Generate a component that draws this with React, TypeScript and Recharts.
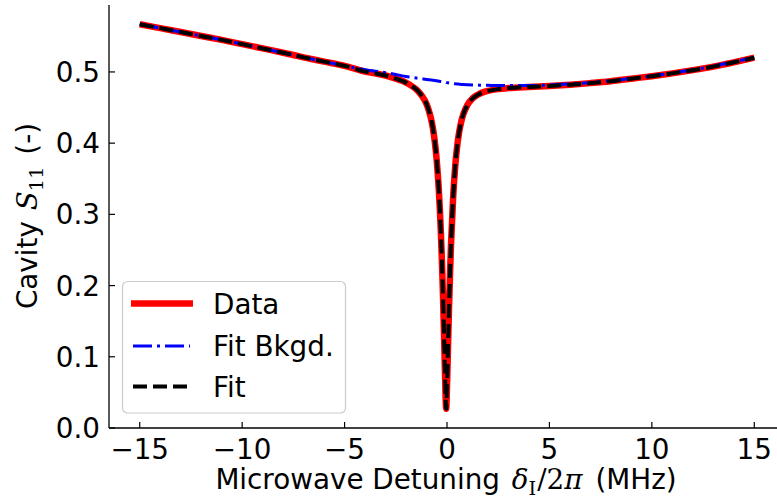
import React from 'react';
import { LineChart, Line, XAxis, YAxis } from 'recharts';

// detuning grid in MHz (denser around the dip)
const detuning = [
  -15, -14, -13, -12, -11, -10, -9, -8, -7, -6, -5, -4, -3.5, -3, -2.5, -2, -1.75, -1.5, -1.25, -1,
  -0.9, -0.8, -0.7, -0.6, -0.5, -0.4, -0.3, -0.25, -0.2, -0.15, -0.1, -0.05, -0.04, 0, 0.05, 0.1,
  0.15, 0.2, 0.3, 0.4, 0.5, 0.6, 0.7, 0.8, 1, 1.25, 1.5, 1.75, 2, 2.5, 3, 4, 5, 6, 7, 8, 9, 10, 11,
  12, 13, 14, 15,
];

const dataS11 = [
  0.567, 0.5615, 0.556, 0.5505, 0.545, 0.539, 0.533, 0.527, 0.5205, 0.5145, 0.5085, 0.5005, 0.498,
  0.495, 0.4905, 0.485, 0.4808, 0.4756, 0.4675, 0.455, 0.447, 0.4367, 0.4228, 0.403, 0.3754, 0.3348,
  0.2753, 0.2361, 0.19, 0.1375, 0.0803, 0.03, 0.027, 0.0576, 0.115, 0.1698, 0.2186, 0.2603, 0.324,
  0.3673, 0.3965, 0.4166, 0.4307, 0.4408, 0.4538, 0.4629, 0.468, 0.4713, 0.4734, 0.4759, 0.4773,
  0.4789, 0.4802, 0.482, 0.4843, 0.487, 0.4905, 0.494, 0.498, 0.5025, 0.5075, 0.5135, 0.52,
];

const bkgdS11 = [
  0.567, 0.5615, 0.556, 0.5505, 0.545, 0.539, 0.533, 0.527, 0.5205, 0.5145, 0.5085, 0.503, 0.501,
  0.499, 0.4965, 0.4935, 0.4925, 0.4915, 0.4905, 0.4895, 0.489, 0.4888, 0.4884, 0.488, 0.4875, 0.487,
  0.4865, 0.4863, 0.486, 0.4858, 0.4855, 0.4853, 0.4852, 0.485, 0.4848, 0.4845, 0.4843, 0.484,
  0.4837, 0.4833, 0.483, 0.4828, 0.4825, 0.4823, 0.482, 0.4817, 0.4815, 0.4813, 0.4812, 0.481, 0.481,
  0.481, 0.4815, 0.483, 0.485, 0.4875, 0.491, 0.4945, 0.4985, 0.503, 0.508, 0.514, 0.5205,
];

const fitS11 = [
  0.567, 0.5615, 0.556, 0.5505, 0.545, 0.539, 0.533, 0.527, 0.5205, 0.5145, 0.5085, 0.5005, 0.498,
  0.495, 0.4905, 0.485, 0.4808, 0.4756, 0.4675, 0.455, 0.447, 0.4367, 0.4228, 0.403, 0.3754, 0.3348,
  0.2753, 0.2361, 0.19, 0.1375, 0.0803, 0.03, 0.027, 0.0576, 0.115, 0.1698, 0.2186, 0.2603, 0.324,
  0.3673, 0.3965, 0.4166, 0.4307, 0.4408, 0.4538, 0.4629, 0.468, 0.4713, 0.4734, 0.4759, 0.4773,
  0.4789, 0.4802, 0.482, 0.4843, 0.487, 0.4905, 0.494, 0.498, 0.5025, 0.5075, 0.5135, 0.52,
];

const xTicks = [-15, -10, -5, 0, 5, 10, 15];
const yTicks = [0, 0.1, 0.2, 0.3, 0.4, 0.5];

const rows = detuning.map((x, i) => ({ x, data: dataS11[i], bkgd: bkgdS11[i], fit: fitS11[i] }));

const FONT = '"DejaVu Sans", sans-serif';
const MATH = '"DejaVu Serif", "Liberation Serif", serif';
const FS = 27.8;
const TICK_LEN = 6;

function BottomTick(props: any) {
  const { x, y, payload } = props;
  const v = payload.value;
  const label = v < 0 ? '\u2212' + Math.abs(v) : String(v);
  return (
    <g>
      <line x1={x} y1={y} x2={x} y2={y - TICK_LEN} stroke="#000" strokeWidth={1.2} />
      <text x={x} y={y + 31} textAnchor="middle" fontFamily={FONT} fontSize={FS} fill="#000">
        {label}
      </text>
    </g>
  );
}

function TopTick(props: any) {
  const { x, y } = props;
  return <line x1={x} y1={y} x2={x} y2={y + TICK_LEN} stroke="#000" strokeWidth={1.2} />;
}

function LeftTick(props: any) {
  const { x, y, payload } = props;
  return (
    <g>
      <line x1={x} y1={y} x2={x + TICK_LEN} y2={y} stroke="#000" strokeWidth={1.2} />
      <text x={x - 9} y={y + 10} textAnchor="end" fontFamily={FONT} fontSize={FS} fill="#000">
        {payload.value.toFixed(1)}
      </text>
    </g>
  );
}

function Overlay() {
  return (
    <svg
      width={777}
      height={503}
      style={{ position: 'absolute', left: 0, top: 0, pointerEvents: 'none' }}
      fontFamily={FONT}
    >
      {/* y label */}
      <text transform="translate(37,216) rotate(-90)" textAnchor="middle" fontSize={FS} fill="#000">
        Cavity{' '}
        <tspan fontFamily={MATH} fontStyle="italic" dx={2}>S</tspan>
        <tspan fontFamily={MATH} fontSize={FS * 0.7} dy={6}>11</tspan>
        <tspan dy={-6} dx={3}> (-)</tspan>
      </text>
      {/* x label */}
      <text x={446} y={489} textAnchor="middle" fontSize={FS} fill="#000">
        Microwave Detuning{' '}
        <tspan fontFamily={MATH} fontStyle="italic" dx={3}>δ</tspan>
        <tspan fontFamily={MATH} fontSize={FS * 0.7} dy={6}>I</tspan>
        <tspan fontFamily={MATH} dy={-6} dx={1}>/2</tspan>
        <tspan fontFamily={MATH} fontStyle="italic">π</tspan>
        <tspan dx={4}> (MHz)</tspan>
      </text>
      {/* legend */}
      <rect x={122.5} y={281.5} width={223} height={131.5} rx={5} fill="#fff" fillOpacity={0.8} stroke="#cccccc" strokeWidth={1.2} />
      <line x1={131} y1={303.5} x2={193} y2={303.5} stroke="#ff0000" strokeWidth={6.5} />
      <line x1={133} y1={346} x2={190} y2={346} stroke="#0000ff" strokeWidth={3} strokeDasharray="19 5 3 5" />
      <line x1={133} y1={386.5} x2={188} y2={386.5} stroke="#000" strokeWidth={4} strokeDasharray="14 6" />
      <text x={213} y={314} fontSize={FS} fill="#000">Data</text>
      <text x={213} y={356} fontSize={FS} fill="#000">Fit Bkgd.</text>
      <text x={213} y={397} fontSize={FS} fill="#000">Fit</text>
    </svg>
  );
}

export default function App() {
  return (
    <div style={{ position: 'absolute', left: 0, top: 0, width: 777, height: 503, overflow: 'hidden', background: '#fff' }}>
      <LineChart width={790} height={503} data={rows} margin={{ top: 5, right: 5, left: 0, bottom: 0 }}>
        <XAxis
          dataKey="x"
          type="number"
          domain={[-16.5, 16.5]}
          ticks={xTicks}
          height={75}
          tickSize={0}
          tickMargin={0}
          tick={<BottomTick />}
          axisLine={{ stroke: '#000', strokeWidth: 1.3 }}
          interval={0}
          allowDataOverflow
        />
        <XAxis
          xAxisId="top"
          orientation="top"
          dataKey="x"
          type="number"
          domain={[-16.5, 16.5]}
          ticks={xTicks}
          height={0}
          tickSize={0}
          tickMargin={0}
          tick={<TopTick />}
          axisLine={{ stroke: '#000', strokeWidth: 1.3 }}
          interval={0}
          allowDataOverflow
        />
        <YAxis
          type="number"
          domain={[0, 0.594]}
          ticks={yTicks}
          width={109}
          tickSize={0}
          tickMargin={0}
          tick={<LeftTick />}
          axisLine={{ stroke: '#000', strokeWidth: 1.3 }}
          interval={0}
          allowDataOverflow
        />
        <Line dataKey="data" type="monotone" stroke="#ff0000" strokeWidth={6.5} dot={false} isAnimationActive={false} />
        <Line dataKey="bkgd" type="monotone" stroke="#0000ff" strokeWidth={3} strokeDasharray="19 5 3 5" dot={false} isAnimationActive={false} />
        <Line dataKey="fit" type="monotone" stroke="#000" strokeWidth={4} strokeDasharray="14 6" dot={false} isAnimationActive={false} />
      </LineChart>
      <Overlay />
    </div>
  );
}
